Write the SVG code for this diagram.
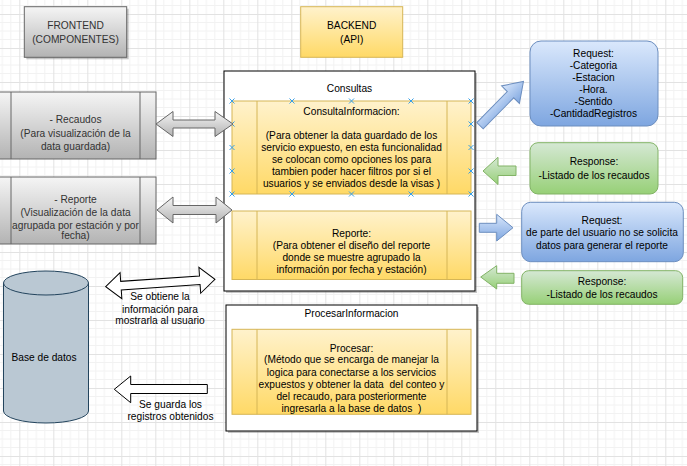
<svg xmlns="http://www.w3.org/2000/svg" width="687" height="466" viewBox="0 0 687 466">
<defs>
  <pattern id="grid" patternUnits="userSpaceOnUse" x="19.3" y="14" width="34" height="34">
    <path d="M8.5,0V34M17,0V34M25.5,0V34M0,8.5H34M0,17H34M0,25.5H34" stroke="#f2f2f2" stroke-width="1" fill="none"/>
    <path d="M0.5,0V34M0,0.5H34" stroke="#e2e2e2" stroke-width="1" fill="none"/>
  </pattern>
  <linearGradient id="gGray" x1="0" y1="0" x2="0" y2="1"><stop offset="0" stop-color="#f5f5f5"/><stop offset="1" stop-color="#b3b3b3"/></linearGradient>
  <linearGradient id="gYel" x1="0" y1="0" x2="0" y2="1"><stop offset="0" stop-color="#fff2cc"/><stop offset="1" stop-color="#ffd966"/></linearGradient>
  <linearGradient id="gBlue" x1="0" y1="0" x2="0" y2="1"><stop offset="0" stop-color="#dae8fc"/><stop offset="1" stop-color="#7ea6e0"/></linearGradient>
  <linearGradient id="gGreen" x1="0" y1="0" x2="0" y2="1"><stop offset="0" stop-color="#d5e8d4"/><stop offset="1" stop-color="#97d077"/></linearGradient>
</defs>
<style>
  text { font-family: "Liberation Sans", Arial, sans-serif; font-size: 10.2px; fill: #000; text-anchor: middle; white-space: pre; }
  .gt { fill: #333333; }
  .gray { fill: url(#gGray); stroke: #666666; stroke-width: 1; }
  .yel { fill: url(#gYel); stroke: #d6b656; stroke-width: 1; }
  .blue { fill: url(#gBlue); stroke: #6c8ebf; stroke-width: 1; }
  .green { fill: url(#gGreen); stroke: #82b366; stroke-width: 1; }
  .cont { fill: #ffffff; stroke: #000000; stroke-width: 1; }
  .sh { fill: #7f7f7f; opacity: 0.45; }
  .div { stroke-width: 1; fill: none; }
  .wa { fill: #ffffff; stroke: #000000; stroke-width: 1; }
  .mk { stroke: #3aa0e6; stroke-width: 1; fill: none; }
</style>
<rect width="687" height="466" fill="#ffffff"/>
<rect width="687" height="466" fill="url(#grid)"/>

<g id="frontend-title">
  <rect class="sh" x="26.3" y="8.7" width="102.4" height="50.6"/>
  <rect class="gray" x="24.3" y="6.7" width="102.4" height="50.6"/>
  <text class="gt" x="75.5" y="29.3">FRONTEND</text>
  <text class="gt" x="75.5" y="42.6">(COMPONENTES)</text>
</g>

<g id="backend-title">
  <rect class="yel" x="300.7" y="6.7" width="102" height="50.6"/>
  <text x="351.7" y="29.3">BACKEND</text>
  <text x="351.7" y="42.6">(API)</text>
</g>

<g id="fe-recaudos">
  <rect class="gray" x="-5" y="92" width="161" height="67"/>
  <path class="div" stroke="#666666" d="M11,92V159M140,92V159"/>
  <text class="gt" x="75.5" y="123">- Recaudos</text>
  <text class="gt" x="75.5" y="136.5">(Para visualización de la</text>
  <text class="gt" x="75.5" y="149.5">data guardada)</text>
</g>

<g id="fe-reporte">
  <rect class="gray" x="-5" y="177" width="161" height="67"/>
  <path class="div" stroke="#666666" d="M11,177V244M140,177V244"/>
  <text class="gt" x="75.5" y="202.6">- Reporte</text>
  <text class="gt" x="75.5" y="215.6">(Visualización de la data</text>
  <text class="gt" x="75.5" y="228.6">agrupada por estación y por</text>
  <text class="gt" x="75.5" y="239.3">fecha)</text>
</g>

<g id="consultas">
  <rect class="sh" x="226" y="73" width="251" height="220"/>
  <rect class="cont" x="224" y="71" width="251" height="220"/>
  <text x="349.5" y="91.6">Consultas</text>
</g>

<g id="consulta-informacion">
  <rect class="yel" x="232" y="101" width="239" height="93"/>
  <path class="div" stroke="#d6b656" d="M257,101V194M447,101V194"/>
  <text x="351.5" y="115.1">ConsultaInformacion:</text>
  <text x="351.5" y="138.6">(Para obtener la data guardado de los</text>
  <text x="351.5" y="150.8">servicio expuesto, en esta funcionalidad</text>
  <text x="351.5" y="163">se colocan como opciones los para</text>
  <text x="351.5" y="175.2">tambien poder hacer filtros por si el</text>
  <text x="351.5" y="187.4">usuarios y se enviados desde la visas )</text>
  <path class="mk" d="M229.5,98.5l5,5m0,-5l-5,5 M289.5,98.5l5,5m0,-5l-5,5 M349,98.5l5,5m0,-5l-5,5 M408.5,98.5l5,5m0,-5l-5,5 M468.5,98.5l5,5m0,-5l-5,5
    M229.5,191.5l5,5m0,-5l-5,5 M289.5,191.5l5,5m0,-5l-5,5 M349,191.5l5,5m0,-5l-5,5 M408.5,191.5l5,5m0,-5l-5,5 M468.5,191.5l5,5m0,-5l-5,5
    M229.5,121.5l5,5m0,-5l-5,5 M229.5,145l5,5m0,-5l-5,5 M229.5,168.5l5,5m0,-5l-5,5
    M468.5,121.5l5,5m0,-5l-5,5 M468.5,145l5,5m0,-5l-5,5 M468.5,168.5l5,5m0,-5l-5,5"/>
</g>

<g id="reporte-api">
  <rect class="yel" x="232" y="211" width="239" height="68.5"/>
  <path class="div" stroke="#d6b656" d="M257,211V279.5M447,211V279.5"/>
  <text x="351.5" y="236.6">Reporte:</text>
  <text x="351.5" y="248.8">(Para obtener el diseño del reporte</text>
  <text x="351.5" y="261.2">donde se muestre agrupado la</text>
  <text x="351.5" y="273.2">información por fecha y estación)</text>
</g>

<g id="procesar-informacion">
  <rect class="sh" x="228" y="307" width="251" height="126"/>
  <rect class="cont" x="226" y="305" width="251" height="126"/>
  <text x="351.5" y="317">ProcesarInformacion</text>
</g>

<g id="procesar">
  <rect class="yel" x="232" y="329.3" width="239" height="85"/>
  <path class="div" stroke="#d6b656" d="M257,329.3V414.3M447,329.3V414.3"/>
  <text x="351.5" y="351.9">Procesar:</text>
  <text x="351.5" y="363.3">(Método que se encarga de manejar la</text>
  <text x="351.5" y="375.5">logica para conectarse a los servicios</text>
  <text x="351.5" y="388" xml:space="preserve">expuestos y obtener la data  del conteo y</text>
  <text x="351.5" y="400.2">del recaudo, para posteriormente</text>
  <text x="351.5" y="412" xml:space="preserve">ingresarla a la base de datos  )</text>
</g>

<g id="request-consulta">
  <rect class="blue" x="530" y="41" width="128" height="85" rx="11" ry="11"/>
  <text x="593.5" y="56.8">Request:</text>
  <text x="593.5" y="68.6">-Categoria</text>
  <text x="593.5" y="80.6">-Estacion</text>
  <text x="593.5" y="93.2">-Hora.</text>
  <text x="593.5" y="105.2">-Sentido</text>
  <text x="593.5" y="117.2">-CantidadRegistros</text>
</g>

<g id="response-consulta">
  <rect class="green" x="530" y="142.7" width="128" height="51.3" rx="8" ry="8"/>
  <text x="594" y="165.3">Response:</text>
  <text x="594" y="178.6">-Listado de los recaudos</text>
</g>

<g id="request-reporte">
  <rect class="blue" x="521.7" y="202.3" width="161.6" height="59.4" rx="9" ry="9"/>
  <text x="602" y="223.6">Request:</text>
  <text x="602" y="236">de parte del usuario no se solicita</text>
  <text x="602" y="248.6">datos para generar el reporte</text>
</g>

<g id="response-reporte">
  <rect class="green" x="521.7" y="270.7" width="161" height="33.6" rx="7" ry="7"/>
  <text x="602" y="284.6">Response:</text>
  <text x="602" y="297.6">-Listado de los recaudos</text>
</g>

<g id="base-de-datos">
  <path d="M3.5,283 V411 A42.5,12 0 0 0 88.5,411 V283" fill="#bac8d3" stroke="#23445d" stroke-width="1"/>
  <ellipse cx="46" cy="283" rx="42.5" ry="12" fill="#bac8d3" stroke="#23445d" stroke-width="1"/>
  <text x="44" y="361.3">Base de datos</text>
</g>

<g id="connectors">
  <path class="gray" d="M156,124 L173,111.5 L173,120 L215,120 L215,111.5 L233,124 L215,136.5 L215,128 L173,128 L173,136.5 Z"/>
  <path class="gray" d="M157,210 L173,197 L173,205.5 L216,205.5 L216,197 L232,210 L216,223 L216,214.5 L173,214.5 L173,223 Z"/>
  <path class="blue" transform="translate(480,125.7) rotate(-45.5)" d="M0,-4.5 L43.5,-4.5 L43.5,-12.5 L62,0 L43.5,12.5 L43.5,4.5 L0,4.5 Z"/>
  <path class="green" d="M483,171 L498,157.3 L498,166 L516,166 L516,175.5 L498,175.5 L498,184.5 Z"/>
  <path class="blue" d="M479.3,223.3 L496.7,223.3 L496.7,214.3 L513,227.7 L496.7,241 L496.7,232.3 L479.3,232.3 Z"/>
  <path class="green" d="M480.7,277 L496.7,265.7 L496.7,273.3 L514,273.3 L514,283.3 L496.7,283.3 L496.7,289 Z"/>
  <path class="wa" transform="translate(105.7,286.7) rotate(-3.9)" d="M0,0 L15.3,-13 L15.3,-4.3 L94.3,-4.3 L94.3,-13 L109.5,0 L94.3,13 L94.3,4.3 L15.3,4.3 L15.3,13 Z"/>
  <path class="wa" d="M114.3,389.3 L130.7,376 L130.7,384.5 L207.3,384.5 L207.3,393.5 L130.7,393.5 L130.7,402.7 Z"/>
  <text x="160" y="300.3">Se obtiene la</text>
  <text x="160" y="312.9">información para</text>
  <text x="160" y="324.3">mostrarla al usuario</text>
  <text x="170.5" y="407.8">Se guarda los</text>
  <text x="170.5" y="420.3">registros obtenidos</text>
</g>
</svg>
